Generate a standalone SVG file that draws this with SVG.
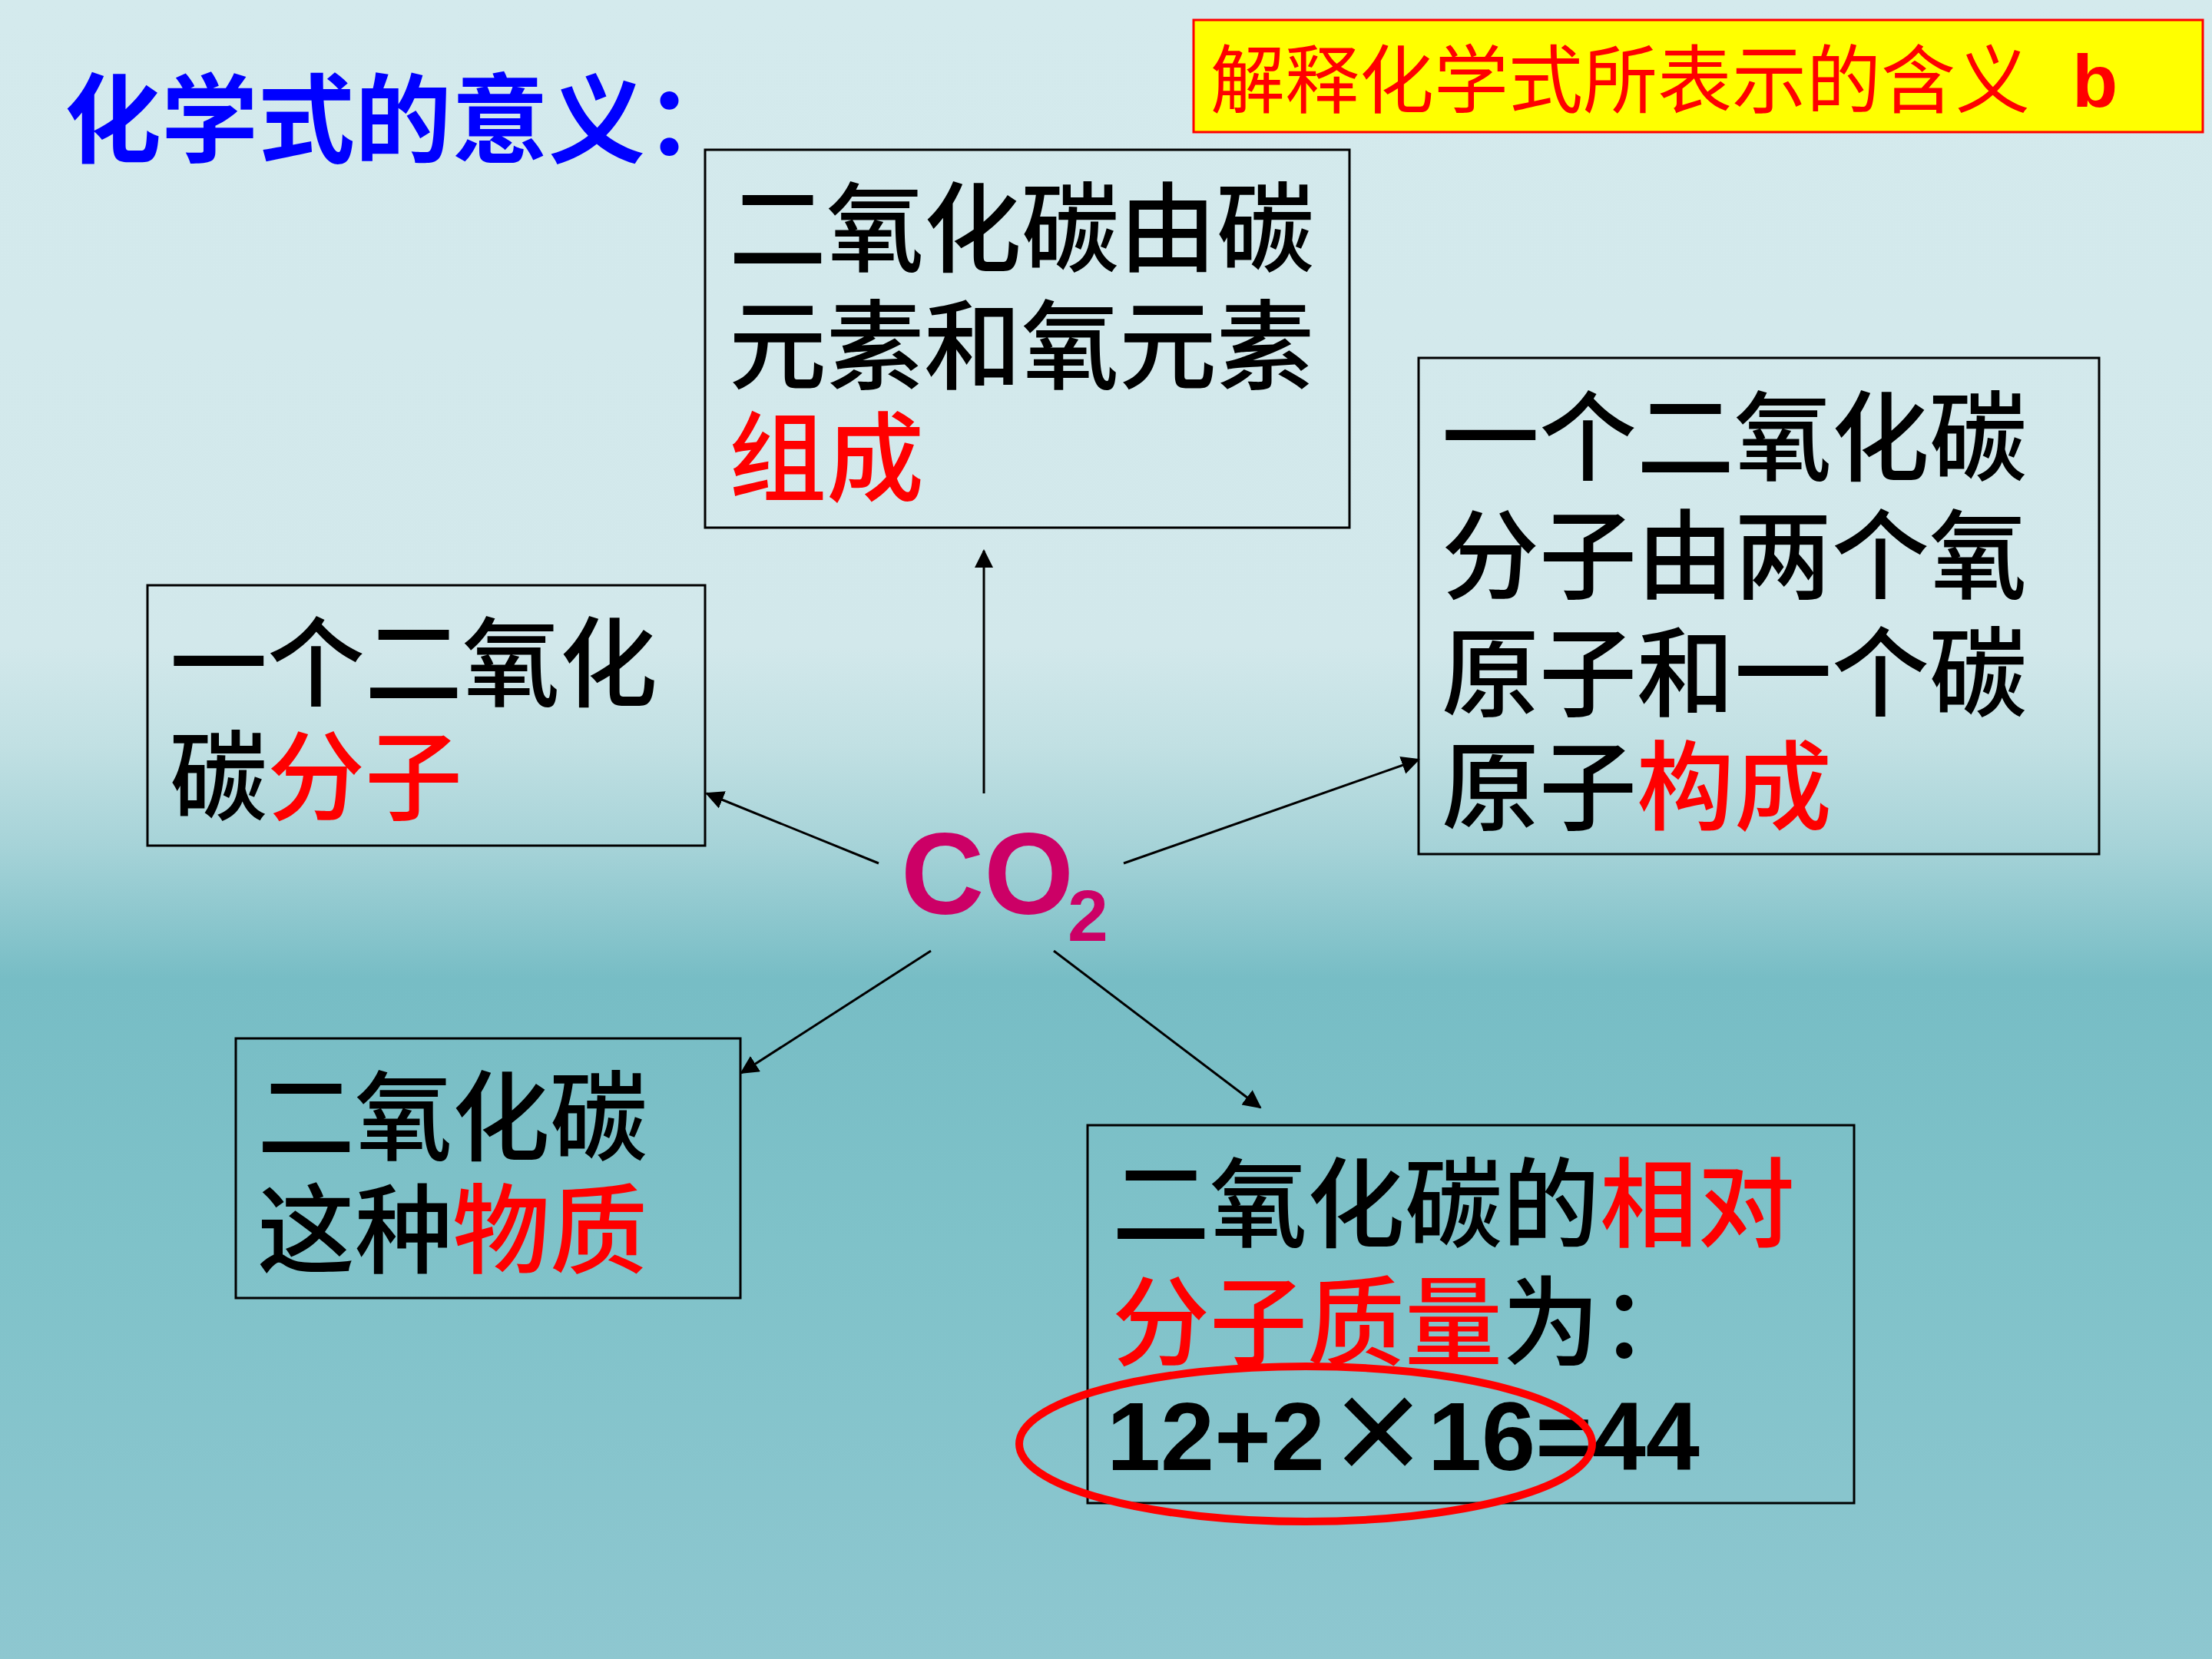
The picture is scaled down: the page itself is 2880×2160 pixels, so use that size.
<svg xmlns="http://www.w3.org/2000/svg" width="2880" height="2160" viewBox="0 0 2880 2160">
  <defs>
    <linearGradient id="bg" x1="0" y1="0" x2="0" y2="1">
      <stop offset="0" stop-color="#d4eaed"/>
      <stop offset="0.39" stop-color="#d2e8eb"/>
      <stop offset="0.45" stop-color="#c1e0e3"/>
      <stop offset="0.51" stop-color="#a6d3d8"/>
      <stop offset="0.59" stop-color="#77bdc5"/>
      <stop offset="0.75" stop-color="#7fc2c9"/>
      <stop offset="1" stop-color="#8ec7d0"/>
    </linearGradient>
    <marker id="arr" viewBox="0 0 24 24" refX="22" refY="12" markerWidth="24" markerHeight="24" markerUnits="userSpaceOnUse" orient="auto">
      <path d="M0,0 L24,12 L0,24 z" fill="#000"/>
    </marker>
  </defs>
  <style>
    .box { fill: none; stroke: #000; stroke-width: 3; }
    .cjk { font-family: "Noto Sans CJK SC", sans-serif; font-size: 127px; font-weight: 500; fill: #000; }
    .red { fill: #ff0000; }
    .title { font-family: "Noto Sans CJK SC", sans-serif; font-size: 126px; font-weight: 700; fill: #0000ff; }
    .note { font-family: "Noto Sans CJK SC", sans-serif; font-size: 97px; font-weight: 400; fill: #ff0000; }
    .latin { font-family: "Liberation Sans", Arial, sans-serif; font-weight: 700; }
    .co2 { font-family: "Liberation Sans", Arial, sans-serif; font-weight: 700; font-size: 150px; fill: #cc0066; }
    .conn line { stroke: #000; stroke-width: 3; marker-end: url(#arr); }
  </style>
  <rect x="0" y="0" width="2880" height="2160" fill="url(#bg)"/>

  <g id="title">
    <text class="title" x="84" y="202">化学式的意义：</text>
  </g>

  <g id="note">
    <rect x="1554" y="26" width="1314" height="146" fill="#ffff00" stroke="#ff0000" stroke-width="3"/>
    <text class="note" x="1576" y="139">解释化学式所表示的含义<tspan class="latin" x="2698" font-size="97">b</tspan></text>
  </g>

  <g id="co2">
    <text class="co2" x="1173" y="1190">CO<tspan font-size="95" dx="-8" dy="35">2</tspan></text>
  </g>

  <g id="node-elements">
    <rect class="box" x="918" y="195" width="839" height="492"/>
    <text class="cjk" x="949" y="344">二氧化碳由碳<tspan x="949" y="497">元素和氧元素</tspan><tspan class="red" x="949" y="643">组成</tspan></text>
  </g>

  <g id="node-molecule">
    <rect class="box" x="192" y="762" width="726" height="339"/>
    <text class="cjk" x="221" y="910">一个二氧化<tspan x="221" y="1058">碳</tspan><tspan class="red">分子</tspan></text>
  </g>

  <g id="node-atoms">
    <rect class="box" x="1847" y="466" width="886" height="646"/>
    <text class="cjk" x="1877" y="616">一个二氧化碳<tspan x="1877" y="770">分子由两个氧</tspan><tspan x="1877" y="923">原子和一个碳</tspan><tspan x="1877" y="1071">原子</tspan><tspan class="red">构成</tspan></text>
  </g>

  <g id="node-substance">
    <rect class="box" x="307" y="1352" width="657" height="338"/>
    <text class="cjk" x="335" y="1501">二氧化碳<tspan x="335" y="1648">这种</tspan><tspan class="red">物质</tspan></text>
  </g>

  <g id="node-mass">
    <rect class="box" x="1416" y="1465" width="998" height="492"/>
    <text class="cjk" x="1448" y="1614">二氧化碳的<tspan class="red">相对</tspan><tspan class="red" x="1448" y="1768">分子质量</tspan>为：<tspan class="latin" font-size="126" x="1441" y="1914">12+2</tspan><tspan font-family="Liberation Sans, Arial, sans-serif" x="1736" y="1931" font-size="200" font-weight="400">×</tspan><tspan class="latin" font-size="126" x="1859" y="1914">16=44</tspan></text>
    <ellipse cx="1700" cy="1880" rx="373" ry="101" fill="none" stroke="#ff0000" stroke-width="10"/>
  </g>

  <g id="connectors" class="conn">
    <line x1="1281" y1="1033" x2="1281" y2="717"/>
    <line x1="1144" y1="1124" x2="920" y2="1033"/>
    <line x1="1463" y1="1124" x2="1847" y2="989"/>
    <line x1="1212" y1="1238" x2="965" y2="1397"/>
    <line x1="1372" y1="1238" x2="1641" y2="1442"/>
  </g>
</svg>
